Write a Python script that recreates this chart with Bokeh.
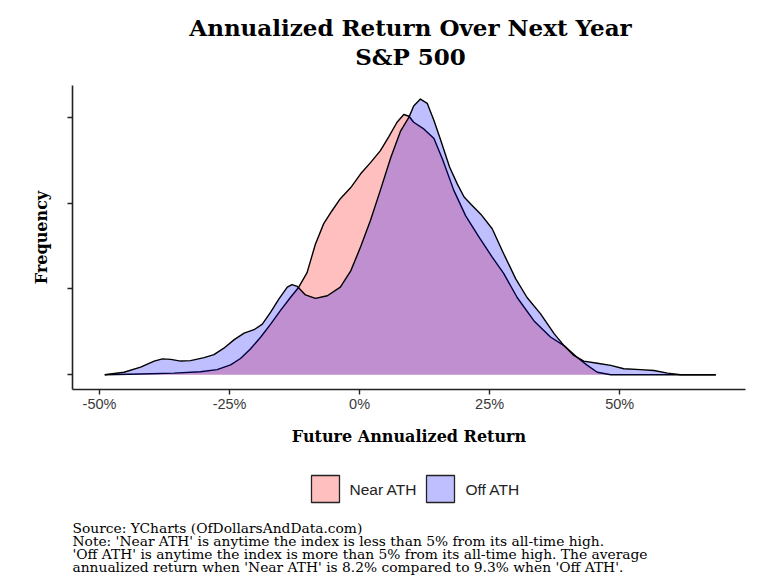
from bokeh.plotting import figure
from bokeh.layouts import column
from bokeh.models import Range1d, FixedTicker
from bokeh.core.properties import value
from bokeh.embed import file_html
from bokeh.resources import INLINE

# ---------------- data ----------------
near_x = [-49.0, -42.1, -35.7, -30.6, -27.4, -24.8, -22.9, -21.0, -19.0, -17.1,
          -15.2, -13.3, -11.7, -10.1, -8.5, -6.9, -5.3, -3.7, -1.7, 0.2,
          2.1, 4.0, 5.6, 7.2, 8.5, 9.5, 10.4, 12.4, 14.3, 16.0,
          18.1, 20.4, 23.0, 25.5, 27.7, 30.3, 33.5, 36.7, 39.3, 41.8,
          43.8, 45.7, 48.3, 55.0, 62.0, 68.5]
near_y = [0.0, 0.01, 0.02, 0.035, 0.06, 0.115, 0.19, 0.30, 0.44, 0.59,
          0.75, 0.90, 1.02, 1.19, 1.52, 1.76, 1.91, 2.05, 2.18, 2.34,
          2.47, 2.61, 2.77, 2.94, 3.03, 3.01, 2.94, 2.86, 2.75, 2.50,
          2.15, 1.85, 1.60, 1.37, 1.18, 0.90, 0.63, 0.44, 0.34, 0.205,
          0.11, 0.03, 0.0, 0.0, 0.0, 0.0]

off_x = [-49.0, -45.3, -42.1, -39.5, -37.9, -36.3, -34.4, -32.5, -29.9, -28.0,
         -26.1, -24.1, -22.2, -20.3, -18.7, -17.1, -15.5, -13.9, -13.0, -12.0,
         -10.4, -8.5, -6.2, -3.7, -1.7, 0.2, 2.1, 4.0, 6.0, 7.9,
         9.5, 10.4, 11.7, 13.0, 14.3, 15.6, 17.3, 18.8, 20.1, 21.5,
         23.3, 25.5, 27.7, 30.0, 32.2, 34.8, 37.4, 39.3, 41.2, 43.1,
         45.7, 48.3, 50.8, 54.0, 56.6, 59.2, 61.7, 68.5]
off_y = [0.0, 0.03, 0.09, 0.16, 0.185, 0.18, 0.16, 0.165, 0.20, 0.235,
         0.31, 0.41, 0.485, 0.525, 0.59, 0.73, 0.885, 1.02, 1.05, 1.03,
         0.93, 0.89, 0.92, 1.02, 1.21, 1.49, 1.80, 2.15, 2.53, 2.84,
         3.00, 3.13, 3.21, 3.16, 2.96, 2.73, 2.42, 2.22, 2.07, 1.98,
         1.87, 1.70, 1.41, 1.12, 0.90, 0.71, 0.48, 0.34, 0.225, 0.16,
         0.135, 0.11, 0.07, 0.06, 0.05, 0.02, 0.0, 0.0]

x_tick_vals = [-50, -25, 0, 25, 50]
x_tick_labels = ["-50%", "-25%", "0%", "25%", "50%"]
y_tick_vals = [0, 1, 2, 3]

title_lines = ["Annualized Return Over Next Year", "S&P 500"]
x_label = "Future Annualized Return"
y_label = "Frequency"
series_names = ["Near ATH", "Off ATH"]
series_colors = ["red", "blue"]
notes = [
    "Source: YCharts (OfDollarsAndData.com)",
    "Note: 'Near ATH' is anytime the index is less than 5% from its all-time high.",
    "'Off ATH' is anytime the index is more than 5% from its all-time high. The average",
    "annualized return when 'Near ATH' is 8.2% compared to 9.3% when 'Off ATH'.",
]

W = 755
BL, BR = 72, 10          # left / right borders (frame spans 72..745 px)
SERIF = value("DejaVu Serif")
SANS = value("Liberation Sans")


def blank_fig(h):
    # frame aligned with the main chart's frame; x data units == page pixels
    f = figure(width=W, height=h, x_range=Range1d(BL, W - BR), y_range=Range1d(0, h),
               x_axis_type=None, y_axis_type=None, min_border_left=BL,
               min_border_right=BR, min_border_top=0, min_border_bottom=0,
               output_backend="svg", toolbar_location=None)
    f.grid.visible = False
    f.outline_line_color = None
    return f


# ---------------- title ----------------
top = blank_fig(78)
top.text(x=[410, 410], y=[51, 22], text=title_lines, text_font=SERIF,
         text_font_style="bold", text_font_size="23px", text_align="center",
         text_baseline="middle", text_color="black")

# ---------------- main chart ----------------
p = figure(width=W, height=380, x_range=Range1d(-55.2, 74.2),
           y_range=Range1d(-0.171, 3.368), min_border_left=BL,
           min_border_right=BR, min_border_top=7, min_border_bottom=69,
           output_backend="svg", toolbar_location=None)
p.grid.visible = False
p.outline_line_color = None

p.varea(x=near_x, y1=0, y2=near_y, fill_color=series_colors[0], fill_alpha=0.25)
p.line(near_x, near_y, line_color="black", line_width=1.4, line_join="round")
p.varea(x=off_x, y1=0, y2=off_y, fill_color=series_colors[1], fill_alpha=0.25)
p.line(off_x, off_y, line_color="black", line_width=1.4, line_join="round")

for ax in (p.xaxis[0], p.yaxis[0]):
    ax.axis_line_color = "#222222"
    ax.axis_line_width = 1.6
    ax.major_tick_line_color = "#222222"
    ax.major_tick_line_width = 1.4
    ax.major_tick_out = 5
    ax.major_tick_in = 0
    ax.minor_tick_line_color = None
    ax.axis_label_text_font = "DejaVu Serif"
    ax.axis_label_text_font_style = "bold"
    ax.axis_label_text_font_size = "16px"
    ax.axis_label_text_color = "black"

p.xaxis.ticker = FixedTicker(ticks=x_tick_vals)
p.xaxis.major_label_overrides = dict(zip(x_tick_vals, x_tick_labels))
p.xaxis.major_label_text_font = "Liberation Sans"
p.xaxis.major_label_text_font_size = "14.5px"
p.xaxis.major_label_text_color = "#3a3a3a"
p.xaxis.major_label_standoff = 1
p.xaxis.axis_label = x_label
p.xaxis.axis_label_standoff = 12

p.yaxis.ticker = FixedTicker(ticks=y_tick_vals)
p.yaxis.major_label_overrides = {v: "" for v in y_tick_vals}
p.yaxis.major_label_text_font_size = "0px"
p.yaxis.major_label_standoff = 0
p.yaxis.axis_label = y_label
p.yaxis.axis_label_standoff = 17

# ---------------- legend + notes ----------------
bot = blank_fig(122)
bot.rect(x=[325, 440], y=[91.5, 91.5], width=28, height=27,
         fill_color=series_colors, fill_alpha=0.25, line_color="#222222",
         line_width=1.3)
bot.text(x=[349, 465], y=[91, 91], text=series_names, text_font=SANS,
         text_font_size="15.5px", text_align="left", text_baseline="middle",
         text_color="#222222")
bot.text(x=[72] * 4, y=[53, 40, 27, 14], text=notes, text_font=SERIF,
         text_font_size="13.8px", text_align="left", text_baseline="middle",
         text_color="black")

layout = column(top, p, bot, spacing=0)
open("out.html", "w").write(file_html(layout, INLINE))
